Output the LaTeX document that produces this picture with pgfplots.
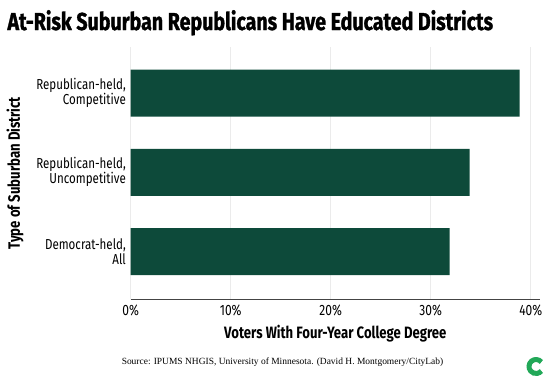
\documentclass[border=0pt]{standalone}
\usepackage{pgfplots}
\pgfplotsset{compat=1.18}
\usepackage{fontspec}
\setmainfont{Fira Sans}[FakeStretch=0.8]
\newfontfamily\titlefont{Fira Sans}[FakeStretch=0.8, BoldFeatures={FakeBold=1.2}]
\newfontfamily\srcfont{Liberation Serif}
\definecolor{bargreen}{HTML}{0D4A3A}
\definecolor{logogreen}{HTML}{22A858}
\definecolor{gridgray}{HTML}{EBEBEB}
\definecolor{axisgray}{HTML}{444444}
\begin{document}
\begin{tikzpicture}[x=1bp,y=1bp]
\path[use as bounding box] (0,0) rectangle (548,-378);
\node[anchor=base west, font=\titlefont\bfseries\fontsize{24.6}{26}\selectfont, inner sep=0] at (7.3,-30) {At-Risk Suburban Republicans Have Educated Districts};
\begin{axis}[
  at={(130.7bp,-299.3bp)}, anchor=south west,
  scale only axis, width=409.3bp, height=252.3bp,
  xbar, bar width=47bp,
  xmin=0, xmax=40.93, ymin=-0.6, ymax=2.58,
  axis lines*=left,
  y axis line style={draw=none},
  x axis line style={draw=axisgray, line width=1bp},
  major tick length=0,
  xtick={0,10,20,30,40},
  xticklabels={0\%,10\%,20\%,30\%,40\%},
  ytick={0,1,2},
  yticklabels={{Democrat-held,\\All},{Republican-held,\\Uncompetitive},{Republican-held,\\Competitive}},
  yticklabel style={align=right, font=\fontsize{14.5}{15}\selectfont, inner sep=0, xshift=-4.7bp},
  xticklabel style={font=\fontsize{15}{16}\selectfont, yshift=-2bp},
  xmajorgrids,
  grid style={draw=gridgray, line width=0.8bp},
  xlabel={Voters With Four-Year College Degree},
  xlabel style={font=\bfseries\fontsize{16.5}{18}\selectfont, at={(axis description cs:0.5,0)}, anchor=center, yshift=-34bp},
  ylabel={Type of Suburban District},
  ylabel style={font=\bfseries\fontsize{16.5}{18}\selectfont, at={(axis description cs:-0.2827,0.5)}, anchor=center},
]
\addplot[fill=bargreen, draw=none] coordinates {(31.9,0) (33.9,1) (38.9,2)};
\end{axis}
\node[font=\srcfont\fontsize{9.5}{11}\selectfont, anchor=center] at (282.5,-361.7) {Source: IPUMS NHGIS, University of Minnesota. (David H. Montgomery/CityLab)};
\draw[logogreen, line width=5bp] (536,-366.5) ++(40:7) arc[start angle=40, end angle=320, radius=7];
\end{tikzpicture}
\end{document}
